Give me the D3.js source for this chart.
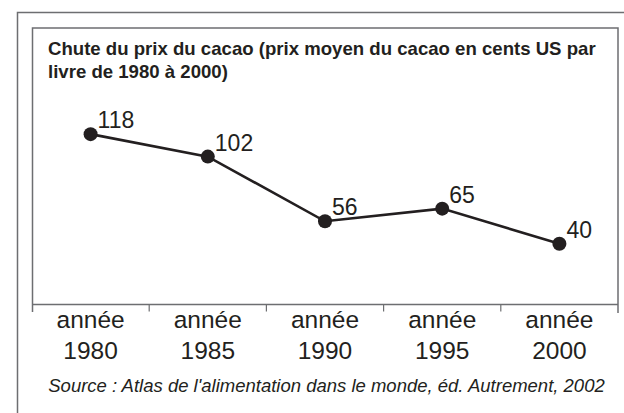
<!DOCTYPE html>
<html><head><meta charset="utf-8">
<script src="https://cdn.jsdelivr.net/npm/d3@7"></script>
<style>body{margin:0;background:#fff}svg{display:block}text{font-family:"Liberation Sans",Arial,sans-serif;fill:#231f20}</style>
</head><body>
<svg id="c" width="624" height="413"></svg>
<script>
const years = ["1980","1985","1990","1995","2000"];
const tickPrefix = "année";
const prices = [118, 102, 56, 65, 40];
const titleLines = ["Chute du prix du cacao (prix moyen du cacao en cents US par", "livre de 1980 à 2000)"];
const sourceText = "Source : Atlas de l'alimentation dans le monde, éd. Autrement, 2002";

const svg = d3.select("#c");
const ink = "#231f20";
const L = 32, R = 618, T = 28, AX = 304.5;

// outer frame
svg.append("path").attr("d", `M17.5,413 V12.5 H624`).attr("fill","none").attr("stroke","#6d6e71").attr("stroke-width",1.5);
// inner frame
svg.append("path").attr("d", `M${L+0.5},312 V${T} H${R} V313`).attr("fill","none").attr("stroke","#6d6e71").attr("stroke-width",1.5);

const x = d3.scaleBand().domain(years).range([L, R]).padding(0);
const y = d3.scaleLinear().domain([0, 140]).range([300, 103.2]);

// axis line
svg.append("line").attr("x1",L).attr("x2",R).attr("y1",AX).attr("y2",AX).attr("stroke","#6d6e71").attr("stroke-width",1.5);
// ticks at band boundaries
svg.selectAll("line.tk").data(years.slice(1)).join("line").attr("class","tk")
  .attr("x1",d=>x(d)).attr("x2",d=>x(d)).attr("y1",AX).attr("y2",AX+7)
  .attr("stroke","#6d6e71").attr("stroke-width",1.2);

const cx = d => x(d) + x.bandwidth()/2;
const lab = svg.selectAll("g.lab").data(years).join("g").attr("class","lab");
lab.append("text").attr("x",cx).attr("y",328).attr("text-anchor","middle").attr("font-size",24.5).text(tickPrefix);
lab.append("text").attr("x",cx).attr("y",358.5).attr("text-anchor","middle").attr("font-size",24.5).text(d=>d);

const pts = years.map((yr,i)=>({yr, v:prices[i]}));
svg.append("path").datum(pts)
  .attr("d", d3.line().x(d=>cx(d.yr)).y(d=>y(d.v)))
  .attr("fill","none").attr("stroke",ink).attr("stroke-width",2.6);
svg.selectAll("circle.pt").data(pts).join("circle").attr("class","pt")
  .attr("cx",d=>cx(d.yr)).attr("cy",d=>y(d.v)).attr("r",7).attr("fill",ink);
svg.selectAll("text.val").data(pts).join("text").attr("class","val")
  .attr("x",d=>cx(d.yr)+7).attr("y",d=>y(d.v)-6).attr("font-size",23).text(d=>d.v);

// title
svg.selectAll("text.title").data(titleLines).join("text").attr("class","title")
  .attr("x",48).attr("y",(d,i)=>55+i*22.5).attr("font-size",18.6).attr("font-weight","bold").text(d=>d);

// source
svg.append("text").attr("x",326.5).attr("y",392).attr("text-anchor","middle")
  .attr("font-size",18.5).attr("font-style","italic").text(sourceText);
</script>
</body></html>
